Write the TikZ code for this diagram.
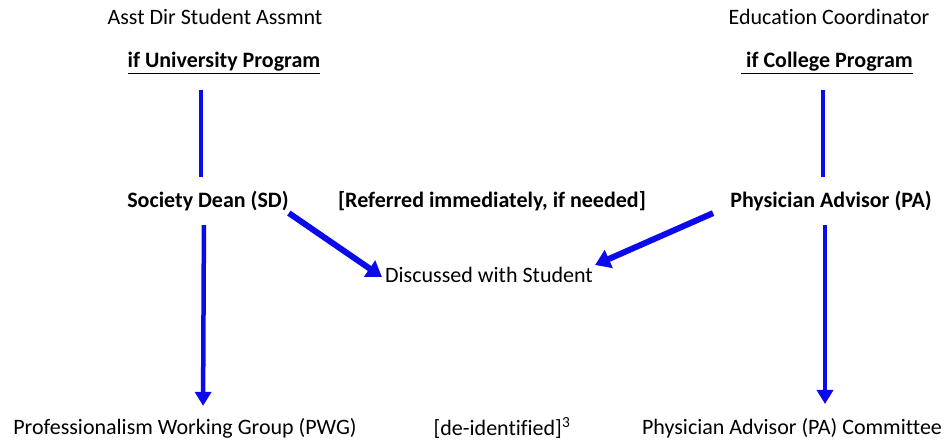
\documentclass[tikz,border=0pt]{standalone}
\usepackage{fontspec}
\setmainfont{Carlito}[Ligatures=NoCommon]
\usetikzlibrary{arrows.meta}
\definecolor{arrowblue}{RGB}{10,10,235}
\newcommand{\thickul}[1]{\underline{#1}}
\begin{document}
\begin{tikzpicture}[x=1pt,y=-1pt,
  lbl/.style={inner sep=0pt,font=\fontsize{22}{26}\selectfont},
  blbl/.style={lbl,font=\fontsize{22}{26}\selectfont\bfseries},
  conn/.style={draw=arrowblue,line width=4.5pt},
  arr/.style={conn,-{Triangle[length=14pt,width=16pt]}},
  darr/.style={draw=arrowblue,line width=6pt,-{Triangle[length=15pt,width=19pt]}}]
\useasboundingbox (0,0) rectangle (949,445);
\node[lbl] (asst) at (215,17) {Asst Dir Student Assmnt};
\node[blbl] (uni) at (224,63) {\thickul{if University Program}};
\node[lbl] (edu) at (829,17) {Education Coordinator};
\node[blbl] (col) at (827,63) {\thickul{\ if College Program}};
\node[blbl] (sd) at (208,201) {Society Dean (SD)};
\node[blbl] (ref) at (492,201) {[Referred immediately, if needed]};
\node[blbl] (pa) at (831,201) {Physician Advisor (PA)};
\node[lbl] (disc) at (489,275) {Discussed with Student};
\node[lbl] (pwg) at (185,428) {Professionalism Working Group (PWG)};
\node[lbl] (deid) at (502,428) {[de-identified]\textsuperscript{3}};
\node[lbl] (pac) at (792,428) {Physician Advisor (PA) Committee};
\draw[conn,shorten <=16pt,shorten >=14pt] ([xshift=-23pt]uni.south) -- ([xshift=-7pt]sd.north);
\draw[conn,shorten <=16pt,shorten >=14pt] ([xshift=-4pt]col.south) -- ([xshift=-8pt]pa.north);
\draw[arr,shorten <=14pt,shorten >=12pt] ([xshift=-4pt]sd.south) -- ([xshift=18pt]pwg.north);
\draw[arr,shorten <=14pt,shorten >=14pt] ([xshift=-6pt]pa.south) -- ([xshift=33pt]pac.north);
\draw[darr] ([yshift=-2pt]sd.south east) -- ([xshift=-3pt,yshift=-2pt]disc.west);
\draw[darr] ([xshift=-17pt,yshift=-2pt]pa.south west) -- ([xshift=2pt,yshift=10pt]disc.east);
\end{tikzpicture}
\end{document}
